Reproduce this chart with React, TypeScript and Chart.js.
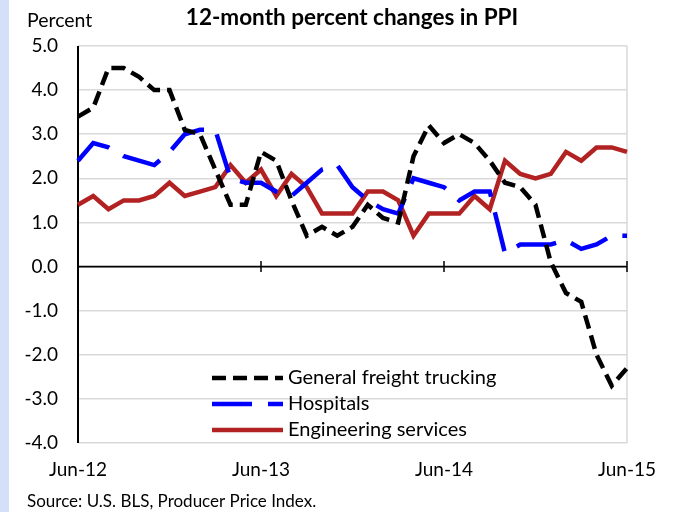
import { useEffect, useRef } from 'react';
import { Chart, registerables } from 'chart.js';
Chart.register(...registerables);

const MONTHS = [
  'Jun-12', 'Jul-12', 'Aug-12', 'Sep-12', 'Oct-12', 'Nov-12', 'Dec-12',
  'Jan-13', 'Feb-13', 'Mar-13', 'Apr-13', 'May-13', 'Jun-13', 'Jul-13', 'Aug-13', 'Sep-13', 'Oct-13', 'Nov-13', 'Dec-13',
  'Jan-14', 'Feb-14', 'Mar-14', 'Apr-14', 'May-14', 'Jun-14', 'Jul-14', 'Aug-14', 'Sep-14', 'Oct-14', 'Nov-14', 'Dec-14',
  'Jan-15', 'Feb-15', 'Mar-15', 'Apr-15', 'May-15', 'Jun-15',
];
const TICK_LABELS = ['Jun-12', 'Jun-13', 'Jun-14', 'Jun-15'];

const TRUCKING = [3.4, 3.6, 4.5, 4.5, 4.3, 4.0, 4.0, 3.1, 3.0, 2.2, 1.4, 1.4, 2.6, 2.4, 1.5, 0.7, 0.9, 0.7, 0.9, 1.4, 1.1, 1.0, 2.5, 3.2, 2.8, 3.0, 2.8, 2.4, 1.9, 1.8, 1.4, 0.1, -0.6, -0.8, -2.0, -2.7, -2.3];
const HOSPITALS = [2.4, 2.8, 2.7, 2.5, 2.4, 2.3, 2.6, 3.0, 3.1, 3.1, 2.0, 1.9, 1.9, 1.7, 1.6, 1.9, 2.2, 2.3, 1.8, 1.5, 1.3, 1.2, 2.0, 1.9, 1.8, 1.5, 1.7, 1.7, 0.3, 0.5, 0.5, 0.5, 0.6, 0.4, 0.5, 0.7, 0.7];
const ENGINEERING = [1.4, 1.6, 1.3, 1.5, 1.5, 1.6, 1.9, 1.6, 1.7, 1.8, 2.3, 1.9, 2.2, 1.6, 2.1, 1.8, 1.2, 1.2, 1.2, 1.7, 1.7, 1.5, 0.7, 1.2, 1.2, 1.2, 1.6, 1.3, 2.4, 2.1, 2.0, 2.1, 2.6, 2.4, 2.7, 2.7, 2.6];

const SERIES_NAMES = ['General freight trucking', 'Hospitals', 'Engineering services'];
const TITLE = '12-month percent changes in PPI';
const Y_TITLE = 'Percent';
const SOURCE = 'Source: U.S. BLS, Producer Price Index.';

const FONT = 'Lato, "Open Sans", sans-serif';

const extras = {
  id: 'extras',
  beforeDatasetsDraw(chart: any) {
    const { ctx, chartArea } = chart;
    const x = chart.scales.x;
    const y = chart.scales.y;
    const y0 = y.getPixelForValue(0);
    ctx.save();
    ctx.strokeStyle = '#d9d9d9';
    ctx.lineWidth = 1.5;
    ctx.beginPath();
    ctx.moveTo(chartArea.right, chartArea.top);
    ctx.lineTo(chartArea.right, chartArea.bottom);
    ctx.stroke();
    ctx.strokeStyle = '#000';
    ctx.lineWidth = 1.8;
    ctx.beginPath();
    ctx.moveTo(chartArea.left, y0);
    ctx.lineTo(chartArea.right, y0);
    ctx.stroke();
    ctx.lineWidth = 1.5;
    MONTHS.forEach((m, i) => {
      if (i > 0 && TICK_LABELS.includes(m)) {
        const px = x.getPixelForValue(i);
        ctx.beginPath();
        ctx.moveTo(px, y0 - 5.5);
        ctx.lineTo(px, y0 + 5.5);
        ctx.stroke();
      }
    });
    ctx.lineWidth = 2;
    ctx.beginPath();
    ctx.moveTo(chartArea.left, chartArea.top);
    ctx.lineTo(chartArea.left, chartArea.bottom);
    ctx.stroke();
    ctx.restore();
  },
  afterDraw(chart: any) {
    const { ctx } = chart;
    ctx.save();
    ctx.fillStyle = '#000';
    ctx.textBaseline = 'alphabetic';
    ctx.font = `bold 22.5px ${FONT}`;
    ctx.textAlign = 'center';
    ctx.fillText(TITLE, 352, 25);
    ctx.textAlign = 'left';
    ctx.font = `19.5px ${FONT}`;
    ctx.fillText(Y_TITLE, 27, 27);
    ctx.font = `17px ${FONT}`;
    ctx.fillText(SOURCE, 27, 507);
    const rows = [378, 404, 430];
    chart.data.datasets.forEach((ds: any, i: number) => {
      const ry = rows[i];
      ctx.strokeStyle = ds.borderColor;
      ctx.lineWidth = ds.borderWidth;
      ctx.setLineDash(ds.borderDash || []);
      ctx.lineCap = 'butt';
      ctx.beginPath();
      ctx.moveTo(212, ry);
      ctx.lineTo(283, ry);
      ctx.stroke();
      ctx.setLineDash([]);
      ctx.fillStyle = '#000';
      ctx.font = `20px ${FONT}`;
      ctx.textBaseline = 'middle';
      ctx.fillText(ds.label, 288, ry);
    });
    ctx.restore();
  },
};

export default function App() {
  const ref = useRef<HTMLCanvasElement>(null);
  useEffect(() => {
    document.body.style.margin = '0';
    const chart = new Chart(ref.current!, {
      type: 'line',
      data: {
        labels: MONTHS,
        datasets: [
          { label: SERIES_NAMES[0], data: TRUCKING, borderColor: '#000000', borderWidth: 4.5, borderDash: [14, 7], pointRadius: 0, tension: 0, fill: false },
          { label: SERIES_NAMES[1], data: HOSPITALS, borderColor: '#0000ff', borderWidth: 4.5, borderDash: [40, 16], pointRadius: 0, tension: 0, fill: false },
          { label: SERIES_NAMES[2], data: ENGINEERING, borderColor: '#b22222', borderWidth: 4.5, pointRadius: 0, tension: 0, fill: false },
        ],
      },
      options: {
        responsive: false,
        animation: false,
        layout: { padding: { left: 0, right: 53, top: 46, bottom: 0 } },
        plugins: { legend: { display: false }, title: { display: false }, tooltip: { enabled: false } },
        scales: {
          x: {
            type: 'category',
            offset: false,
            grid: { display: false },
            border: { display: false },
            afterFit: (s: any) => { s.height = 69; },
            ticks: {
              autoSkip: false,
              maxRotation: 0,
              padding: 7,
              color: '#000',
              font: { family: FONT, size: 19 },
              callback: (v: any, i: number) => (TICK_LABELS.includes(MONTHS[i]) ? MONTHS[i] : ''),
            },
          },
          y: {
            min: -4,
            max: 5,
            afterFit: (s: any) => { s.width = 78; },
            grid: { color: '#d9d9d9', lineWidth: 1.5, drawTicks: false },
            border: { display: false },
            ticks: {
              stepSize: 1,
              padding: 20,
              color: '#000',
              font: { family: FONT, size: 19 },
              callback: (v: any) => Number(v).toFixed(1),
            },
          },
        },
      },
      plugins: [extras],
    });
    return () => chart.destroy();
  }, []);
  return (
    <div style={{ position: 'relative', width: 680, height: 512, background: '#fff' }}>
      <div style={{ position: 'absolute', left: 0, top: 0, width: 9, height: 512, background: '#d4e0f8' }} />
      <canvas ref={ref} width={680} height={512} style={{ position: 'absolute', left: 0, top: 0 }} />
    </div>
  );
}
